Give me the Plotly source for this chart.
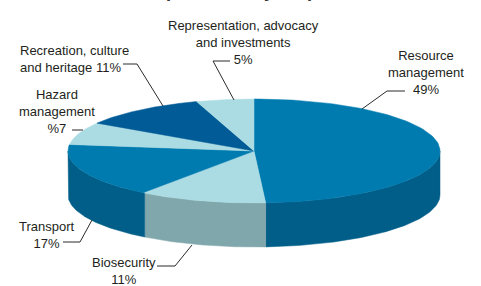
import numpy as np
import plotly.graph_objects as go

# ---------------- data ----------------
categories = ["Resource management", "Biosecurity", "Transport",
              "Hazard management", "Recreation, culture and heritage",
              "Representation, advocacy and investments"]
values = [49, 11, 17, 7, 11, 5]
label_text = [
    "Resource<br>management<br>49%",
    "Biosecurity<br>11%",
    "Transport<br>17%",
    "Hazard<br>management<br>%7",
    "Recreation, culture<br>and heritage 11%",
    "Representation, advocacy<br>and investments<br>5%",
]
title_text = "Council expenditure by output classes"

# ---------------- styles / layout ----------------
top_colors = ["#007BAF", "#ABDCE3", "#007BAF", "#ABDCE3", "#005B96", "#ABDCE3"]
side_colors = ["#005E88", "#80A7AC", "#005E88", "#80A7AC", "#004A7A", "#80A7AC"]

W, H = 481, 286
cx, cy, rx, ry, depth = 254, 151, 186, 52, 44

# label placement: (x, y, xanchor, align)
label_pos = [
    (426, 72, "center", "center"),
    (124, 271, "center", "center"),
    (47, 234.5, "center", "center"),
    (57, 111, "center", "center"),
    (18, 58.5, "left", "left"),
    (243, 42, "center", "center"),
]
leaders = [
    [(405, 91), (387, 91), (362, 109)],
    [(157, 266), (175, 266), (192, 245)],
    [(63, 242), (80, 242), (92, 220)],
    [(72, 130), (83, 130)],
    [(123, 64), (137, 64), (163, 106)],
    [(230, 61), (213, 61), (234, 100)],
]


def pt(theta_deg, dy=0.0):
    t = np.radians(theta_deg)
    return cx + rx * np.sin(t), cy - ry * np.cos(t) + dy


fig = go.Figure()

total = float(sum(values))
bounds = np.concatenate([[0], np.cumsum(values)]) / total * 360.0

# side faces (front half only: 90..270 deg)
for i in range(len(values)):
    a, b = max(bounds[i], 90), min(bounds[i + 1], 270)
    if b <= a:
        continue
    th = np.linspace(a, b, 80)
    xt, yt = pt(th)
    xb, yb = pt(th[::-1], depth)
    xs = np.concatenate([xt, xb, xt[:1]])
    ys = np.concatenate([yt, yb, yt[:1]])
    fig.add_trace(go.Scatter(x=xs, y=ys, mode="lines", fill="toself",
                             fillcolor=side_colors[i],
                             line=dict(color=side_colors[i], width=0.5),
                             hoverinfo="skip"))

# top faces
for i in range(len(values)):
    th = np.linspace(bounds[i], bounds[i + 1], 120)
    xa, ya = pt(th)
    xs = np.concatenate([[cx], xa, [cx]])
    ys = np.concatenate([[cy], ya, [cy]])
    fig.add_trace(go.Scatter(x=xs, y=ys, mode="lines", fill="toself",
                             fillcolor=top_colors[i],
                             line=dict(color=top_colors[i], width=0.5),
                             name=categories[i], hoverinfo="name"))

# leader lines
for pts in leaders:
    fig.add_trace(go.Scatter(x=[p[0] for p in pts], y=[p[1] for p in pts],
                             mode="lines", line=dict(color="#2b2b2b", width=1),
                             hoverinfo="skip"))

annotations = []
for txt, (x, y, xa, al) in zip(label_text, label_pos):
    annotations.append(dict(x=x, y=y, xref="x", yref="y", text=txt,
                            showarrow=False, xanchor=xa, yanchor="middle",
                            align=al,
                            font=dict(family="Liberation Sans, Arial", size=13,
                                      color="#231F20")))
annotations.append(dict(x=240, y=3, xref="x", yref="y", text="<b>" + title_text + "</b>",
                        showarrow=False, xanchor="center", yanchor="bottom",
                        font=dict(family="Liberation Sans, Arial", size=18,
                                  color="#333333")))

fig.update_layout(
    width=W, height=H,
    margin=dict(l=0, r=0, t=0, b=0),
    paper_bgcolor="white", plot_bgcolor="white",
    showlegend=False,
    xaxis=dict(range=[0, W], visible=False, fixedrange=True),
    yaxis=dict(range=[H, 0], visible=False, fixedrange=True),
    annotations=annotations,
)

fig.write_html("out.html", config={"displayModeBar": False},
               post_script="document.body.style.margin='0px';")
